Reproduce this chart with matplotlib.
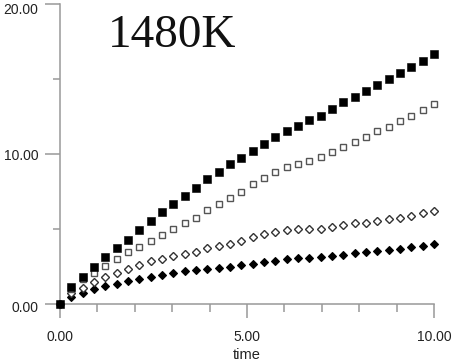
import matplotlib
matplotlib.use("Agg")
import matplotlib.pyplot as plt
from matplotlib.ticker import MultipleLocator, FixedLocator
from matplotlib.transforms import ScaledTranslation

time = [0.00, 0.30, 0.61, 0.91, 1.21, 1.52, 1.82, 2.12, 2.42, 2.73, 3.03, 3.33,
        3.64, 3.94, 4.24, 4.55, 4.85, 5.15, 5.45, 5.76, 6.06, 6.36, 6.67, 6.97,
        7.27, 7.58, 7.88, 8.18, 8.48, 8.79, 9.09, 9.39, 9.70, 10.00]

filled_sq = [0.00, 1.11, 1.82, 2.49, 3.11, 3.73, 4.29, 4.91, 5.51, 6.11, 6.67, 7.18,
             7.73, 8.31, 8.80, 9.31, 9.76, 10.22, 10.67, 11.11, 11.51, 11.88, 12.25, 12.56,
             12.98, 13.44, 13.78, 14.20, 14.60, 14.98, 15.38, 15.82, 16.22, 16.67]

open_sq = [0.00, 1.00, 1.67, 2.09, 2.56, 3.00, 3.44, 3.82, 4.22, 4.62, 5.00, 5.38,
           5.76, 6.24, 6.67, 7.07, 7.49, 7.98, 8.40, 8.78, 9.11, 9.35, 9.56, 9.82,
           10.16, 10.49, 10.82, 11.11, 11.55, 11.82, 12.22, 12.53, 12.93, 13.33]

open_dia = [0.00, 0.72, 1.09, 1.47, 1.78, 2.04, 2.36, 2.58, 2.84, 3.02, 3.20, 3.33,
            3.49, 3.71, 3.87, 4.00, 4.22, 4.44, 4.64, 4.78, 4.93, 4.98, 4.98, 5.00,
            5.11, 5.28, 5.38, 5.42, 5.53, 5.64, 5.73, 5.87, 6.04, 6.22]

filled_dia = [0.00, 0.49, 0.76, 1.00, 1.20, 1.36, 1.56, 1.67, 1.80, 1.91, 2.04, 2.18,
              2.27, 2.36, 2.42, 2.50, 2.58, 2.70, 2.80, 2.90, 3.00, 3.06, 3.08, 3.12,
              3.20, 3.30, 3.38, 3.45, 3.53, 3.62, 3.70, 3.78, 3.85, 4.00]

x_ticklabels = ["0.00", "5.00", "10.00"]
y_ticklabels = ["0.00", "10.00", "20.00"]
title_text = "1480K"
xlabel = "time"

plt.rcParams['font.family'] = ['Liberation Sans', 'DejaVu Sans']

fig = plt.figure(figsize=(4.56, 3.62), dpi=100)
ax = fig.add_axes([60/456, 1-304/362, 374/456, 300/362])

axcol = '#999999'
ax.plot(time, filled_dia, linestyle='none', marker='D', markersize=3.7,
        mfc='black', mec='black', mew=0.8, clip_on=False, zorder=3)
ax.plot(time, open_dia, linestyle='none', marker='D', markersize=3.6,
        mfc='white', mec='#333333', mew=1.0, clip_on=False, zorder=3)
ax.plot(time, open_sq, linestyle='none', marker='s', markersize=4.6,
        mfc='white', mec='#555555', mew=1.0, clip_on=False, zorder=4)
ax.plot(time, filled_sq, linestyle='none', marker='s', markersize=5.3,
        mfc='black', mec='black', mew=0.4, clip_on=False, zorder=5)

ax.set_xlim(0, 10)
ax.set_ylim(0, 20)
for s in ['top', 'right']:
    ax.spines[s].set_visible(False)
for s in ['left', 'bottom']:
    ax.spines[s].set_color(axcol)
    ax.spines[s].set_linewidth(1.1)

ax.xaxis.set_major_locator(FixedLocator([0, 5, 10]))
ax.xaxis.set_minor_locator(MultipleLocator(1))
ax.yaxis.set_major_locator(FixedLocator([0, 10, 20]))
ax.yaxis.set_minor_locator(MultipleLocator(5))
ax.set_xticklabels(x_ticklabels)
ax.set_yticklabels(y_ticklabels)

ax.tick_params(axis='both', which='both', direction='out', color=axcol,
               width=1.1, labelsize=10, labelcolor='#222222')
ax.tick_params(axis='y', which='major', length=11, pad=4.5)
ax.tick_params(axis='y', which='minor', length=5)
ax.tick_params(axis='x', which='major', length=10, pad=9)
ax.tick_params(axis='x', which='minor', length=5.5)

ax.set_xlabel(xlabel, fontsize=10.5, color='#222222', labelpad=2.5)

# small downward offsets of the y tick labels, as in the reference
for lab, dy in zip(ax.get_yticklabels(), [2.5, 1.0, 4.5]):
    lab.set_transform(lab.get_transform() + ScaledTranslation(0, -dy/100, fig.dpi_scale_trans))

fig.text(108/456, 1-47/362, title_text, fontsize=34,
         family=['Liberation Serif'], color='#111111', ha='left', va='baseline')

fig.savefig('out.png', dpi=100)
